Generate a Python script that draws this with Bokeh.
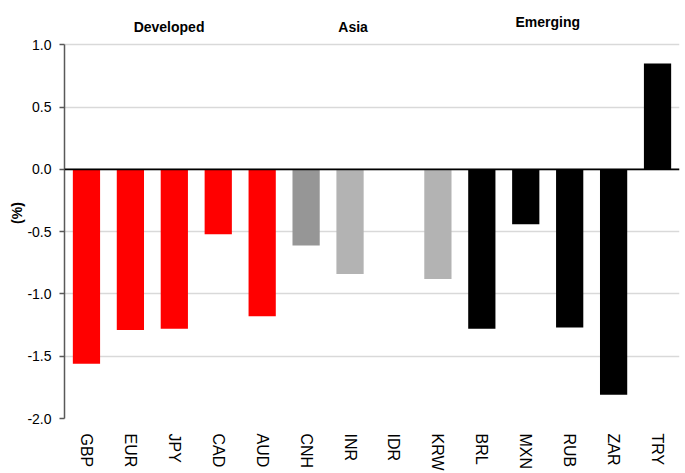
import math

from bokeh.core.properties import value
from bokeh.embed import file_html
from bokeh.models import (ColumnDataSource, CustomJSTickFormatter, FactorRange,
                          FixedTicker, Range1d, Span)
from bokeh.plotting import figure
from bokeh.resources import INLINE

# Currency performance, % change
currencies = ["GBP", "EUR", "JPY", "CAD", "AUD", "CNH", "INR", "IDR",
              "KRW", "BRL", "MXN", "RUB", "ZAR", "TRY"]
change_pct = [-1.56, -1.29, -1.28, -0.52, -1.18, -0.61, -0.84, None,
              -0.88, -1.28, -0.44, -1.27, -1.81, 0.85]
y_ticks = [-2.0, -1.5, -1.0, -0.5, 0.0, 0.5, 1.0]

group_names = ["Developed", "Asia", "Emerging"]

# styling
bar_colors = ["#ff0000"] * 5 + ["#969696", "#b3b3b3", "#b3b3b3", "#b3b3b3"] + ["#000000"] * 5
group_label_x = [2.38, 6.57, 11.0]      # synthetic categorical coordinates
group_label_y = [1.14, 1.14, 1.18]

FONT = "Liberation Sans, Arial, sans-serif"

tops = [float("nan") if v is None else v for v in change_pct]
source = ColumnDataSource(dict(ccy=currencies, top=tops, color=bar_colors))

p = figure(
    width=685, height=473,
    x_range=FactorRange(factors=currencies, range_padding=0),
    y_range=Range1d(-2.0, 1.3),
    output_backend="svg", toolbar_location=None,
    min_border_left=64, min_border_right=6, min_border_top=7, min_border_bottom=52,
)
p.outline_line_color = None
p.background_fill_color = "white"
p.border_fill_color = "white"

p.vbar(x="ccy", top="top", bottom=0, width=0.62, color="color",
       line_color=None, source=source)

# zero line
p.add_layout(Span(location=0, dimension="width", line_color="black", line_width=1.6))

# group headings
p.text(x=group_label_x, y=group_label_y, text=group_names,
       text_font=value(FONT), text_font_style="bold", text_font_size="14px",
       text_align="center", text_baseline="alphabetic", text_color="black")

# y axis
p.yaxis.ticker = FixedTicker(ticks=y_ticks)
p.yaxis.bounds = (-2.0, 1.0)
p.yaxis.axis_line_color = "#595959"
p.yaxis.axis_line_width = 1.5
p.yaxis.major_tick_line_color = "#595959"
p.yaxis.major_tick_line_width = 1.5
p.yaxis.major_tick_out = 5
p.yaxis.major_tick_in = 0
p.yaxis.minor_tick_line_color = None
p.yaxis.major_label_standoff = 8
p.yaxis.major_label_text_font = FONT
p.yaxis.major_label_text_font_size = "14px"
p.yaxis.major_label_text_color = "black"
p.yaxis.formatter = CustomJSTickFormatter(code="return tick.toFixed(1);")
p.yaxis.axis_label = "(%)"
p.yaxis.axis_label_text_font = FONT
p.yaxis.axis_label_text_font_style = "bold"
p.yaxis.axis_label_text_font_size = "14px"
p.yaxis.axis_label_text_color = "black"
p.yaxis.axis_label_standoff = -1

# grid
p.ygrid.ticker = FixedTicker(ticks=y_ticks)
p.ygrid.grid_line_color = "#d9d9d9"
p.ygrid.grid_line_width = 1.5
p.ygrid.bounds = (-2.0, 1.0)
p.xgrid.grid_line_color = None

# x axis
p.xaxis.axis_line_color = None
p.xaxis.major_tick_line_color = None
p.xaxis.minor_tick_line_color = None
p.xaxis.major_label_orientation = -math.pi / 2
p.xaxis.major_label_standoff = 9
p.xaxis.major_label_text_font = FONT
p.xaxis.major_label_text_font_size = "16px"
p.xaxis.major_label_text_color = "black"

open("out.html", "w").write(file_html(p, INLINE))
